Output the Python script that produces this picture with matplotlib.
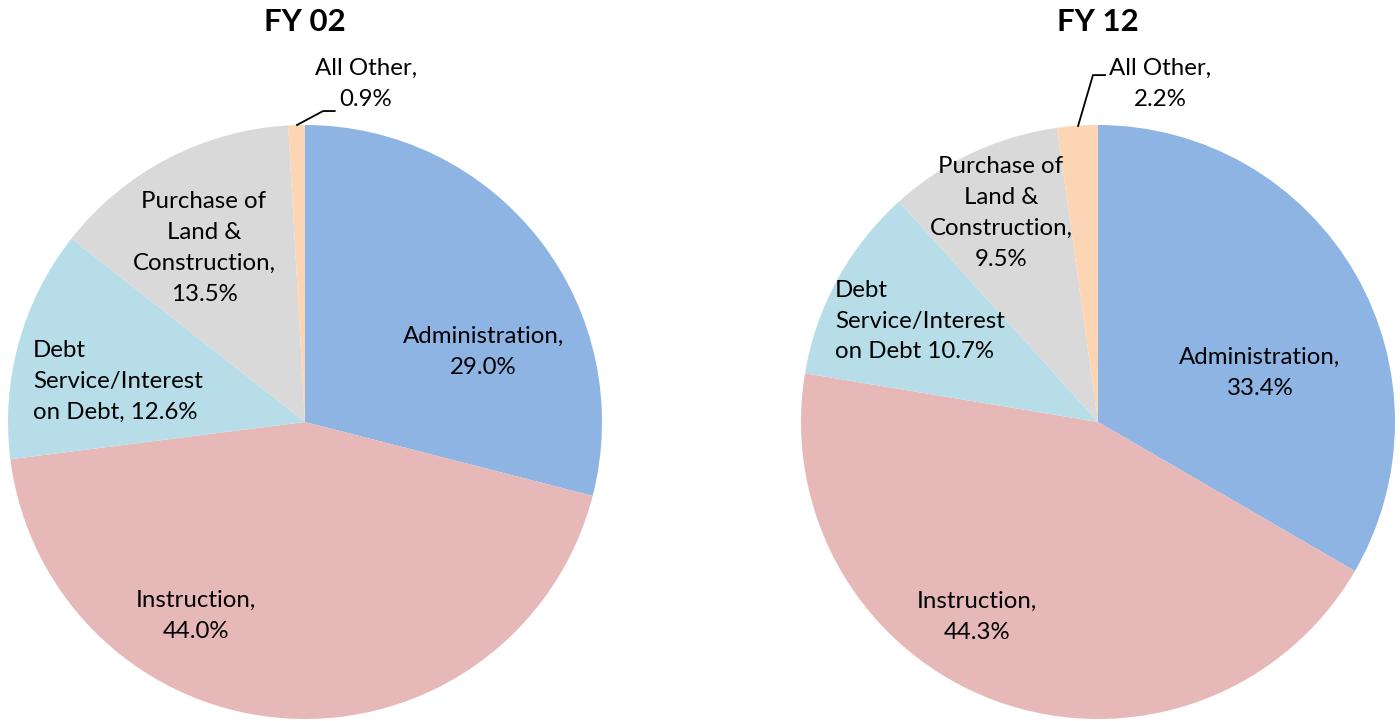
import matplotlib
matplotlib.use("Agg")
import matplotlib.pyplot as plt

plt.rcParams['font.family'] = ['Lato', 'DejaVu Sans']

categories = ["Administration", "Instruction", "Debt Service/Interest on Debt",
              "Purchase of Land & Construction", "All Other"]
fy02_values = [29.0, 44.0, 12.6, 13.5, 0.9]
fy12_values = [33.4, 44.3, 10.7, 9.5, 2.2]
titles = ["FY 02", "FY 12"]

fy02_labels = ["Administration,\n29.0%", "Instruction,\n44.0%",
               "Debt\nService/Interest\non Debt, 12.6%",
               "Purchase of\nLand &\nConstruction,\n13.5%", "All Other,\n0.9%"]
fy12_labels = ["Administration,\n33.4%", "Instruction,\n44.3%",
               "Debt\nService/Interest\non Debt 10.7%",
               "Purchase of\nLand &\nConstruction,\n9.5%", "All Other,\n2.2%"]

colors = ["#8EB4E3", "#E6B9B8", "#B7DEE8", "#D9D9D9", "#FCD5B5"]

# label layout (axes data coords, pie radius = 1)
layout02 = [((0.60, 0.236), 'center'), ((-0.367, -0.653), 'center'),
            ((-0.916, 0.138), 'left'), ((-0.34, 0.586), 'center'),
            ((0.205, 1.138), 'center')]
layout12 = [((0.545, 0.165), 'center'), ((-0.407, -0.657), 'center'),
            ((-0.886, 0.34), 'left'), ((-0.327, 0.704), 'center'),
            ((0.209, 1.138), 'center')]
leader02 = [(-0.027, 1.0), (0.061, 1.047), (0.10, 1.047)]
leader12 = [(-0.067, 0.997), (-0.017, 1.168), (0.024, 1.168)]

W, H = 1400, 721
fig = plt.figure(figsize=(W / 100, H / 100), dpi=100)

specs = [(305, 422, fy02_values, fy02_labels, layout02, leader02, titles[0]),
         (1098, 422, fy12_values, fy12_labels, layout12, leader12, titles[1])]
R = 297
for cx, cy, vals, labs, lay, lead, title in specs:
    ax = fig.add_axes([(cx - R) / W, (H - cy - R) / H, 2 * R / W, 2 * R / H])
    ax.pie(vals, colors=colors, startangle=90, counterclock=False, radius=1,
           wedgeprops=dict(linewidth=0))
    ax.set_xlim(-1, 1)
    ax.set_ylim(-1, 1)
    ax.set_aspect('equal')
    ax.axis('off')
    for text, ((x, y), ha) in zip(labs, lay):
        ax.text(x, y, text, ha=ha, va='center', fontsize=17.3, color='#000000',
                multialignment=ha, linespacing=1.58, clip_on=False)
    ax.plot([p[0] for p in lead], [p[1] for p in lead], color='black', lw=1.3,
            clip_on=False)
    fig.text(cx / W, 1 - 22 / H, title, ha='center', va='center',
             fontsize=22.5, fontweight='bold')

fig.savefig("out.png", dpi=100)
